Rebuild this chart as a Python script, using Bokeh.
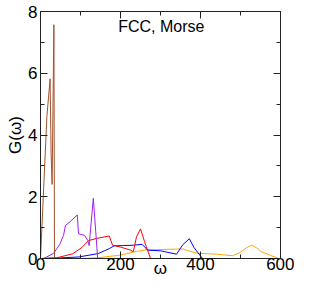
from bokeh.plotting import figure
from bokeh.models import LinearAxis, Label, Range1d, SingleIntervalTicker, CustomJSTickFormatter
from bokeh.embed import file_html
from bokeh.resources import INLINE

# ---- data ----
brown_x = [0, 8, 16, 24, 26.5, 29, 33.5, 35, 600]
brown_y = [0, 2.3, 4.6, 5.82, 3.4, 2.4, 7.57, 0, 0]

purple_x = [0, 8, 32, 48, 57.6, 62.4, 72, 92, 95, 110, 118, 121.6, 132, 143, 600]
purple_y = [0, 0.0, 0.16, 0.45, 0.75, 1.07, 1.17, 1.41, 0.8, 0.75, 0.59, 0.42, 1.95, 0, 0]

red_x = [0, 40, 80, 104, 120, 140, 172, 180, 200, 225, 232, 240, 250, 260, 275, 600]
red_y = [0, 0.02, 0.15, 0.36, 0.58, 0.65, 0.73, 0.43, 0.37, 0.27, 0.22, 0.7, 0.96, 0.55, 0, 0]

blue_x = [0, 50, 96, 144, 160, 172, 184, 208, 232, 254, 268, 300, 340, 356, 372, 384, 405, 600]
blue_y = [0, 0.02, 0.05, 0.16, 0.25, 0.32, 0.41, 0.42, 0.43, 0.46, 0.27, 0.25, 0.14, 0.45, 0.64, 0.35, 0, 0]

orange_x = [0, 100, 140, 200, 240, 264, 300, 356, 370, 392, 440, 480, 500, 515, 528, 540, 552, 575, 596, 600]
orange_y = [0, 0, 0.02, 0.11, 0.23, 0.28, 0.29, 0.31, 0.25, 0.17, 0.14, 0.09, 0.2, 0.35, 0.43, 0.35, 0.22, 0.1, 0, 0]

title_text = "FCC, Morse"
x_label = "ω"
y_label = "G(ω)"

FONT = "Liberation Sans"

p = figure(width=294, height=280, output_backend="svg", toolbar_location=None,
           x_range=Range1d(0, 600), y_range=Range1d(0, 8),
           min_border_top=11, min_border_right=14, min_border_left=40, min_border_bottom=10)

p.grid.visible = False
p.outline_line_color = "#222222"
p.background_fill_color = "white"

series = [
    (orange_x, orange_y, "#ffa500"),
    (blue_x, blue_y, "#0000ff"),
    (red_x, red_y, "#ff0000"),
    (purple_x, purple_y, "#a020f0"),
    (brown_x, brown_y, "#a0522d"),
]
for xs, ys, c in series:
    p.line(xs, ys, line_color=c, line_width=1)

def style_axis(ax, labels=True):
    ax.axis_line_color = "#222222"
    ax.major_tick_line_color = "#222222"
    ax.minor_tick_line_color = "#222222"
    ax.major_tick_in = 7
    ax.major_tick_out = 0
    ax.minor_tick_in = 4
    ax.minor_tick_out = 0
    ax.major_label_text_font = FONT
    ax.major_label_text_font_size = "17px"
    ax.major_label_text_color = "black"
    ax.axis_label_text_font = FONT
    ax.axis_label_text_font_size = "17px"
    ax.axis_label_text_font_style = "normal"
    ax.axis_label_text_color = "black"
    if not labels:
        ax.formatter = CustomJSTickFormatter(code="return ''")
        ax.major_label_standoff = 0
        ax.axis_label_standoff = 0

p.xaxis.ticker = SingleIntervalTicker(interval=200, num_minor_ticks=2)
p.yaxis.ticker = SingleIntervalTicker(interval=2, num_minor_ticks=2)
style_axis(p.xaxis[0])
style_axis(p.yaxis[0])
p.xaxis.axis_label = x_label
p.yaxis.axis_label = y_label
p.xaxis.major_label_standoff = -1
p.xaxis.axis_label_standoff = -14
p.yaxis.major_label_standoff = 3
p.yaxis.axis_label_standoff = 0

top = LinearAxis(ticker=SingleIntervalTicker(interval=200, num_minor_ticks=2))
style_axis(top, labels=False)
p.add_layout(top, "above")
right = LinearAxis(ticker=SingleIntervalTicker(interval=2, num_minor_ticks=2))
style_axis(right, labels=False)
p.add_layout(right, "right")

p.add_layout(Label(x=302, y=7.5, text=title_text, text_align="center",
                   text_baseline="middle", text_font=FONT, text_font_size="16px",
                   text_color="black"))

open("out.html", "w").write(file_html(p, INLINE))
